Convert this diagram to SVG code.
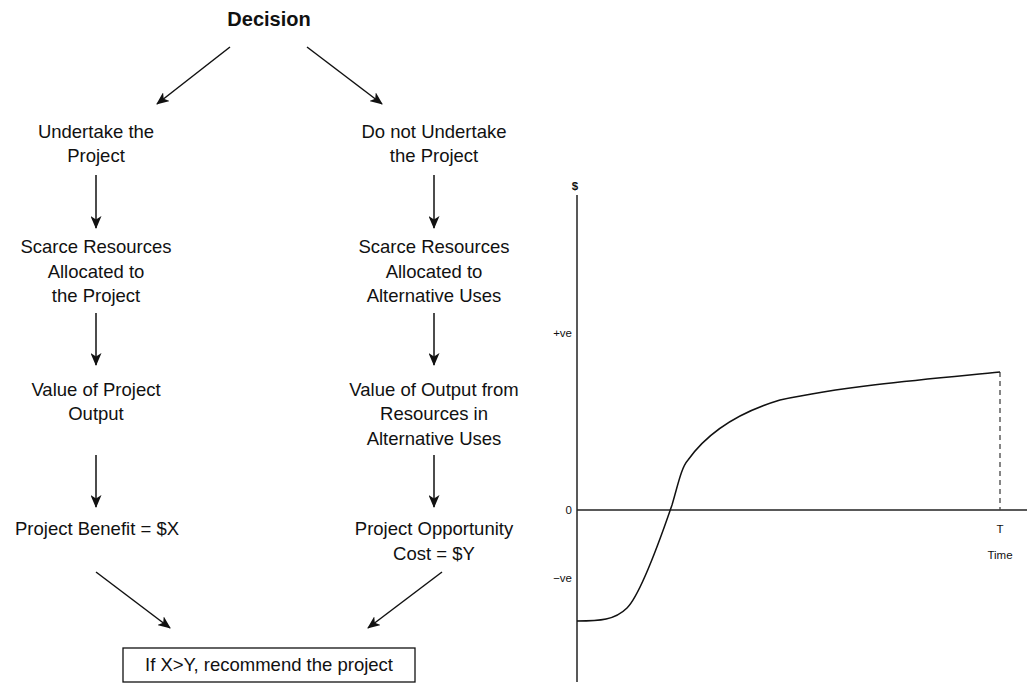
<svg xmlns="http://www.w3.org/2000/svg" width="1027" height="693" viewBox="0 0 1027 693">
<defs>
<style>
.t{font-family:"Liberation Sans",Arial,sans-serif;font-size:18.5px;fill:#111;text-anchor:middle}
.b{font-weight:bold;font-size:20px}
.s{font-family:"Liberation Sans",Arial,sans-serif;font-size:11.5px;fill:#111}
.c{stroke:#111;stroke-width:1.5;fill:none}
.ax{stroke:#222;stroke-width:1.5;fill:none}
</style>
<marker id="ah" viewBox="0 0 13 11" refX="12" refY="5.5" markerWidth="13" markerHeight="11" markerUnits="userSpaceOnUse" orient="auto">
<path d="M0,0 L13,5.5 L0,11 L3.5,5.5 Z" fill="#111"/>
</marker>
</defs>
<rect width="1027" height="693" fill="#fff"/>
<g id="decision"><text class="t b" x="269" y="26">Decision</text></g>
<g id="undertake"><text class="t" x="96" y="138">Undertake the</text><text class="t" x="96" y="162">Project</text></g>
<g id="not-undertake"><text class="t" x="434" y="138">Do not Undertake</text><text class="t" x="434" y="162">the Project</text></g>
<g id="resources-project"><text class="t" x="96" y="253">Scarce Resources</text><text class="t" x="96" y="278">Allocated to</text><text class="t" x="96" y="302">the Project</text></g>
<g id="resources-alt"><text class="t" x="434" y="253">Scarce Resources</text><text class="t" x="434" y="278">Allocated to</text><text class="t" x="434" y="302">Alternative Uses</text></g>
<g id="value-project"><text class="t" x="96" y="396">Value of Project</text><text class="t" x="96" y="420">Output</text></g>
<g id="value-alt"><text class="t" x="434" y="396">Value of Output from</text><text class="t" x="434" y="420">Resources in</text><text class="t" x="434" y="445">Alternative Uses</text></g>
<g id="benefit"><text class="t" x="97" y="535">Project Benefit = $X</text></g>
<g id="cost"><text class="t" x="434" y="535">Project Opportunity</text><text class="t" x="434" y="560">Cost = $Y</text></g>
<g id="recommend"><rect x="123" y="648" width="292" height="34" fill="#fff" stroke="#111" stroke-width="1.3"/><text class="t" x="269" y="671">If X&gt;Y, recommend the project</text></g>
<g id="connectors">
<line class="c" x1="230" y1="47" x2="157" y2="104" marker-end="url(#ah)"/>
<line class="c" x1="307" y1="47" x2="382" y2="104" marker-end="url(#ah)"/>
<line class="c" x1="96" y1="175" x2="96" y2="228" marker-end="url(#ah)"/>
<line class="c" x1="434" y1="175" x2="434" y2="228" marker-end="url(#ah)"/>
<line class="c" x1="96" y1="313" x2="96" y2="365" marker-end="url(#ah)"/>
<line class="c" x1="434" y1="313" x2="434" y2="365" marker-end="url(#ah)"/>
<line class="c" x1="96" y1="455" x2="96" y2="507" marker-end="url(#ah)"/>
<line class="c" x1="434" y1="455" x2="434" y2="507" marker-end="url(#ah)"/>
<line class="c" x1="96" y1="572" x2="170" y2="628" marker-end="url(#ah)"/>
<line class="c" x1="442" y1="572" x2="368" y2="628" marker-end="url(#ah)"/>
</g>
<g id="graph">
<line class="ax" x1="577" y1="195" x2="577" y2="682"/>
<line class="ax" x1="577" y1="510" x2="1027" y2="510"/>
<line x1="1000" y1="372" x2="1000" y2="510" stroke="#444" stroke-width="1.3" stroke-dasharray="5,4"/>
<path class="c" d="M577,621 C600,621 615,620 627,608 C640,595 660,540 672,505 C678,485 681,468 688,460 C708,432 740,412 780,400 C850,385 940,378 1000,372"/>
<text class="s" x="575" y="190" text-anchor="middle" font-weight="bold" font-size="12.5">$</text>
<text class="s" x="572" y="337" text-anchor="end">+ve</text>
<text class="s" x="572" y="514" text-anchor="end">0</text>
<text class="s" x="572" y="582" text-anchor="end">−ve</text>
<text class="s" x="1000" y="533" text-anchor="middle" font-size="12.5">T</text>
<text class="s" x="1000" y="559" text-anchor="middle">Time</text>
</g>
</svg>
